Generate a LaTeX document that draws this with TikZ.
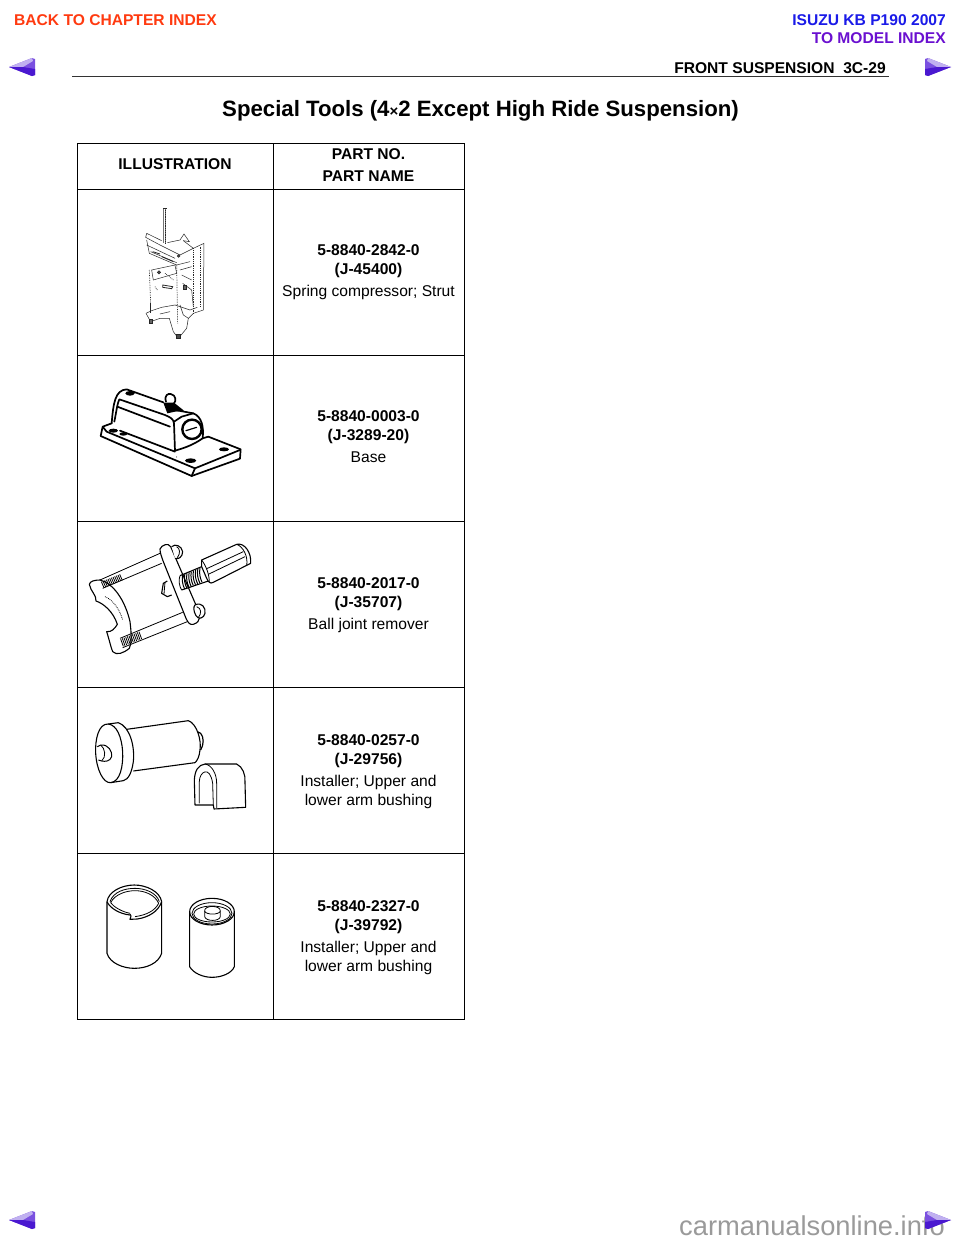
\documentclass[tikz,border=0pt]{standalone}
\usepackage{fontspec}
\setmainfont{Liberation Sans}
\usetikzlibrary{positioning}
\definecolor{backred}{HTML}{FF3A10}
\definecolor{isuzublue}{HTML}{1A1AE8}
\definecolor{modelpurple}{HTML}{6A10D0}
\definecolor{watergray}{HTML}{9A9A9A}
\definecolor{navlight}{HTML}{C0B0F0}
\definecolor{navmid}{HTML}{7A50E0}
\definecolor{navdark}{HTML}{4A18D0}
\tikzset{every node/.style={align=center, inner sep=0pt},
    cell/.style={draw, line width=1pt, outer sep=0pt, minimum width=#1, minimum height=166pt},
    headcell/.style={draw, line width=1pt, outer sep=0pt, minimum width=#1, minimum height=46pt},
    parttext/.style={font=\fontsize{15.6}{19}\selectfont},
    headtext/.style={font=\fontsize{15.6}{22}\selectfont\bfseries},
    linktext/.style={font=\fontsize{15.6}{18}\selectfont\bfseries},
    toolthin/.style={line width=0.5pt, black!85},
    toolline/.style={line width=0.8pt, line join=round},
    toolbold/.style={line width=1.7pt, line join=round, line cap=round},
    navarrow/.pic={
        \fill[navmid] (-13,0) -- (10,-9) -- (13,-8) -- (13,8) -- (10,9) -- cycle;
        \fill[navlight] (-13,0) -- (10,-9) -- (11,-6) -- (1,0) -- cycle;
        \fill[navdark] (-13,0) -- (1,0) -- (13,2) -- (13,8) -- (10,9) -- cycle;
    }}
\newcommand{\partlabel}[3]{\textbf{#1}\\ \textbf{(#2)}\\[3pt] #3}
\begin{document}
\begin{tikzpicture}[x=1pt, y=-1pt]
\useasboundingbox (0,0) rectangle (960,1242);
\fill[white] (0,0) rectangle (960,1242);
% header
\node[linktext, text=backred, anchor=west] (back) at (14,20) {BACK TO CHAPTER INDEX};
\node[linktext, text=isuzublue, anchor=east] (isuzu) at (946,20) {ISUZU KB P190 2007};
\node[linktext, text=modelpurple, anchor=east] (model) at (946,38) {TO MODEL INDEX};
\node[linktext, anchor=east] (page) at (886,68) {FRONT SUSPENSION\ \ 3C-29};
\coordinate (ruleL) at (72,76.5);
\coordinate (ruleR) at (889,76.5);
\draw[line width=1.6pt, black!80] (ruleL) -- (ruleR);
\node[font=\fontsize{22.2}{26}\selectfont\bfseries] (title) at (480.5,110.5) {Special Tools (4{\fontsize{15}{15}\selectfont ×}2 Except High Ride Suspension)};
\pic at (22,67) {navarrow};
\pic[xscale=-1] at (938,67) {navarrow};
\pic at (22,1220) {navarrow};
% table
\node[headcell=196pt] (illhead) at (175,166) {};
\node[headcell=191pt] (parthead) at (368.5,166) {};
\node[cell=196pt] (ill1) [below=0pt of illhead] {};
\node[cell=191pt] (part1) [below=0pt of parthead] {};
\node[cell=196pt] (ill2) [below=0pt of ill1] {};
\node[cell=191pt] (part2) [below=0pt of part1] {};
\node[cell=196pt] (ill3) [below=0pt of ill2] {};
\node[cell=191pt] (part3) [below=0pt of part2] {};
\node[cell=196pt] (ill4) [below=0pt of ill3] {};
\node[cell=191pt] (part4) [below=0pt of part3] {};
\node[cell=196pt] (ill5) [below=0pt of ill4] {};
\node[cell=191pt] (part5) [below=0pt of part4] {};
\node[headtext] (illname) at (175,164) {ILLUSTRATION};
\node[headtext] (partname) at (368.5,165) {PART NO.\\ PART NAME};
\node[parttext] (text1) at (368.5,272.5) {\partlabel{5-8840-2842-0}{J-45400}{Spring compressor; Strut}};
\node[parttext] (text2) at (368.5,437) {\partlabel{5-8840-0003-0}{J-3289-20}{Base}};
\node[parttext] (text3) at (368.5,605) {\partlabel{5-8840-2017-0}{J-35707}{Ball joint remover}};
\node[parttext] (text4) at (368.5,772) {\partlabel{5-8840-0257-0}{J-29756}{Installer; Upper and\\ lower arm bushing}};
\node[parttext] (text5) at (368.5,938) {\partlabel{5-8840-2327-0}{J-39792}{Installer; Upper and\\ lower arm bushing}};
% spring compressor
\begin{scope}[shift={(80,190)}, x=0.3333pt, y=-0.3333pt, toolthin]
\draw[line width=1pt, black!55] (252,55) -- (252,160) (258,55) -- (258,160);
\draw[line width=0.8pt, densely dotted] (255,55) -- (255,160);
\draw (250,55) -- (260,55);
\draw (200,130) -- (245,152) (200,130) -- (197,142) -- (240,165);
\draw (262,158) -- (300,150) -- (312,132) -- (328,155) -- (310,152);
\draw (200,150) -- (208,190) -- (290,225) -- (330,215);
\draw (240,165) -- (300,195) -- (340,175) (310,152) -- (340,175);
\draw (340,175) -- (372,160) -- (370,360) -- (340,370);
\draw[densely dotted, line width=0.8pt] (340,175) -- (340,370) (362,170) -- (362,350);
\draw (200,165) -- (285,205) (212,185) -- (290,218);
\draw[line width=0.8pt] (218,185) -- (240,192) (245,200) -- (280,215);
\draw (215,240) -- (285,225) -- (290,250) -- (220,270) -- cycle;
\draw[fill=black!70] (237,247) circle (5);
\draw[fill=black!70] (296,198) circle (4);
\draw[line width=0.8pt] (248,285) -- (278,290) -- (275,296) -- (248,292) -- cycle;
\draw[densely dotted, line width=0.7pt] (208,240) -- (212,340) (290,225) -- (293,400);
\draw[densely dotted, line width=0.7pt] (255,250) -- (280,270) (225,290) -- (232,300);
\draw (300,240) -- (335,230) (305,255) -- (335,270) (308,280) -- (335,300) -- (340,350);
\draw[fill=black!60] (310,285) rectangle (318,298);
\draw[line width=1pt] (212,340) -- (212,368);
\draw (198,370) -- (215,362) -- (245,352) -- (285,345) -- (330,360) -- (352,352);
\draw (198,370) -- (212,395) -- (240,385) -- (268,385) -- (280,425) -- (295,445) -- (320,415) -- (325,385) -- (340,370);
\draw[fill=black!60] (208,388) rectangle (218,400);
\draw[fill=black!70] (288,434) rectangle (300,445);
\draw (240,372) -- (270,365) (300,345) -- (310,375) -- (325,385);
\end{scope}
% base
\begin{scope}[shift={(80,360)}, x=0.3333pt, y=-0.3333pt, toolbold]
\draw (95,190) -- (68,200) -- (62,228) -- (335,348) -- (480,296) -- (482,268) -- (385,230);
\draw (68,200) -- (80,215) -- (345,325) -- (480,270);
\draw (345,325) -- (335,348);
\draw (120,212) -- (285,275);
\draw (95,190) .. controls (100,130) and (105,90) .. (140,88) -- (250,127);
\draw (285,150) -- (340,160) .. controls (365,170) and (372,200) .. (368,235) .. controls (340,255) and (310,265) .. (285,272) -- (282,190) .. controls (280,175) and (270,172) .. (255,165) -- (118,118) .. controls (112,130) and (110,150) .. (103,185);
\draw (112,140) -- (270,200);
\draw (368,235) -- (385,230);
\draw (340,160) -- (305,170) -- (282,185);
\draw[line width=2.4pt] (336,208) circle [x radius=29, y radius=29];
\draw[line width=1.2pt] (318,212) -- (350,202);
\fill (150,100) ellipse [x radius=14, y radius=7];
\fill (100,212) ellipse [x radius=14, y radius=6];
\fill (130,222) ellipse [x radius=12, y radius=5];
\fill (432,268) ellipse [x radius=15, y radius=6];
\fill (332,302) ellipse [x radius=17, y radius=7];
\draw (258,125) .. controls (252,105) and (265,100) .. (272,102) .. controls (290,105) and (288,125) .. (282,130);
\fill (250,128) -- (282,128) -- (312,152) -- (285,155) -- (262,160) -- cycle;
\fill (290,291) circle (1.5);
\end{scope}
% ball joint remover
\begin{scope}[shift={(80,525)}, x=0.3333pt, y=-0.3333pt, toolline]
\draw[line width=1.1pt] (28,178) .. controls (30,168) and (45,165) .. (60,165) .. controls (100,175) and (135,225) .. (150,290) .. controls (155,330) and (155,355) .. (148,370) .. controls (130,385) and (110,392) .. (98,380) .. controls (92,365) and (88,345) .. (80,320) .. controls (95,322) and (105,310) .. (112,298) .. controls (100,260) and (70,235) .. (48,228) .. controls (50,210) and (32,200) .. (28,178) -- cycle;
\draw[densely dotted] (75,215) .. controls (100,225) and (120,255) .. (128,285);
\draw (60,165) -- (240,85) (68,190) -- (245,115);
\draw (120,340) -- (308,262) (128,368) -- (322,290);
\foreach \i in {0,1,...,11} {
    \draw (64+\i*5,170-\i*2) -- (72+\i*5,188-\i*2);
    \draw (122+\i*5,342-\i*2) -- (130+\i*5,364-\i*2);
}
\draw[line width=1.1pt, fill=white] (240,72) .. controls (245,60) and (265,52) .. (272,65) -- (350,245) .. controls (362,270) and (365,290) .. (340,298) .. controls (330,300) and (325,295) .. (318,280) -- (250,110) .. controls (245,95) and (240,85) .. (240,72) -- cycle;
\draw[line width=1.1pt, fill=white] (275,65) .. controls (285,55) and (305,62) .. (308,80) .. controls (308,95) and (295,105) .. (285,100);
\draw (290,65) .. controls (300,70) and (302,85) .. (292,98);
\draw[line width=1.1pt, fill=white] (345,240) .. controls (365,230) and (378,248) .. (375,265) .. controls (372,280) and (355,285) .. (348,272) .. controls (340,258) and (340,245) .. (345,240) -- cycle;
\draw (350,245) .. controls (365,250) and (365,265) .. (355,278);
\draw[line width=1.1pt] (262,168) -- (250,175) -- (245,205) -- (262,215) -- (275,210);
\draw (255,172) -- (252,207);
\draw[line width=1.1pt] (300,152) -- (365,125) (305,195) -- (385,168);
\draw (300,152) .. controls (295,165) and (298,185) .. (305,195);
\foreach \i in {0,1,...,8} {
    \draw[line width=1pt] (308+\i*6.5,150-\i*2.6) .. controls (305+\i*6.5,165-\i*2.6) and (308+\i*6.5,180-\i*2.6) .. (314+\i*6.5,192-\i*2.6);
}
\draw[line width=1.1pt, fill=white] (365,105) -- (470,58) .. controls (495,52) and (515,85) .. (512,115) -- (400,172) .. controls (390,178) and (385,170) .. (380,160) -- (365,125) -- (365,105) -- cycle;
\draw (470,58) .. controls (490,65) and (505,95) .. (500,122);
\draw (365,105) .. controls (380,125) and (388,150) .. (388,172);
\draw (378,132) -- (490,80);
\draw (385,148) -- (495,95);
\end{scope}
% installer and shell
\begin{scope}[shift={(80,690)}, x=0.3333pt, y=-0.3333pt, toolline]
\draw[line width=1.1pt] (85,102) -- (115,98) .. controls (150,110) and (165,170) .. (160,215) .. controls (155,250) and (145,268) .. (130,272) -- (92,278);
\draw[line width=1.1pt] (85,102) .. controls (55,100) and (45,150) .. (47,190) .. controls (50,240) and (70,280) .. (92,278) .. controls (120,275) and (130,230) .. (128,185) .. controls (125,140) and (110,105) .. (85,102) -- cycle;
\draw[line width=1.1pt] (140,118) -- (325,92) .. controls (350,100) and (365,150) .. (360,180) .. controls (358,200) and (352,212) .. (345,218) -- (160,243);
\draw[line width=1pt] (52,170) -- (62,165) .. controls (85,162) and (98,185) .. (95,200) .. controls (90,215) and (75,215) .. (65,213) -- (55,210);
\draw (62,165) .. controls (75,175) and (80,200) .. (65,213);
\draw[line width=1.2pt] (352,125) -- (362,130) .. controls (372,140) and (372,165) .. (362,180);
\draw[line width=1.1pt] (345,345) -- (343,270) .. controls (345,240) and (355,225) .. (375,222) -- (470,222) .. controls (488,230) and (497,255) .. (495,275) -- (497,352) -- (402,357) -- (400,345) -- (345,345);
\draw (358,340) -- (358,275) .. controls (358,245) and (390,225) .. (398,280) -- (400,345);
\draw (375,222) .. controls (395,225) and (410,250) .. (410,280) -- (410,355);
\end{scope}
% bushing installers
\begin{scope}[shift={(80,860)}, x=0.3333pt, y=-0.3333pt, toolline]
\draw[line width=1.1pt] (81,125) .. controls (85,95) and (125,75) .. (163,75) .. controls (200,75) and (240,95) .. (245,125);
\draw (90,125) .. controls (100,95) and (135,85) .. (165,85) .. controls (195,85) and (230,98) .. (238,125);
\draw (92,128) .. controls (105,102) and (140,92) .. (165,92) .. controls (195,92) and (225,105) .. (236,130);
\draw[line width=1.1pt] (81,125) .. controls (90,145) and (120,162) .. (150,165);
\draw (92,128) .. controls (100,140) and (125,155) .. (150,160);
\draw[line width=1.1pt] (150,162) -- (153,168) -- (150,178) -- (172,177) .. controls (205,172) and (235,155) .. (245,125);
\draw (165,170) .. controls (200,165) and (225,152) .. (236,130);
\draw[line width=1.1pt] (81,125) -- (81,280) .. controls (90,310) and (130,325) .. (163,325) .. controls (200,325) and (235,310) .. (245,280) -- (245,125);
\draw[line width=1.1pt] (396,155) ellipse [x radius=67, y radius=40];
\draw (396,160) ellipse [x radius=60, y radius=32];
\draw (396,162) ellipse [x radius=55, y radius=24];
\draw[fill=white] (374,152) .. controls (374,135) and (420,135) .. (421,152) -- (421,170) .. controls (418,185) and (378,185) .. (374,170) -- cycle;
\draw (374,154) .. controls (380,165) and (415,165) .. (421,154);
\draw[line width=1.1pt] (329,155) -- (329,320) .. controls (340,340) and (370,352) .. (396,352) .. controls (425,352) and (455,340) .. (463,320) -- (463,155);
\end{scope}
\node[font=\fontsize{27.3}{30}\selectfont, text=watergray, anchor=east] (water) at (945,1226) {carmanualsonline.info};
\pic[xscale=-1] at (938,1220) {navarrow};
\end{tikzpicture}
\end{document}
